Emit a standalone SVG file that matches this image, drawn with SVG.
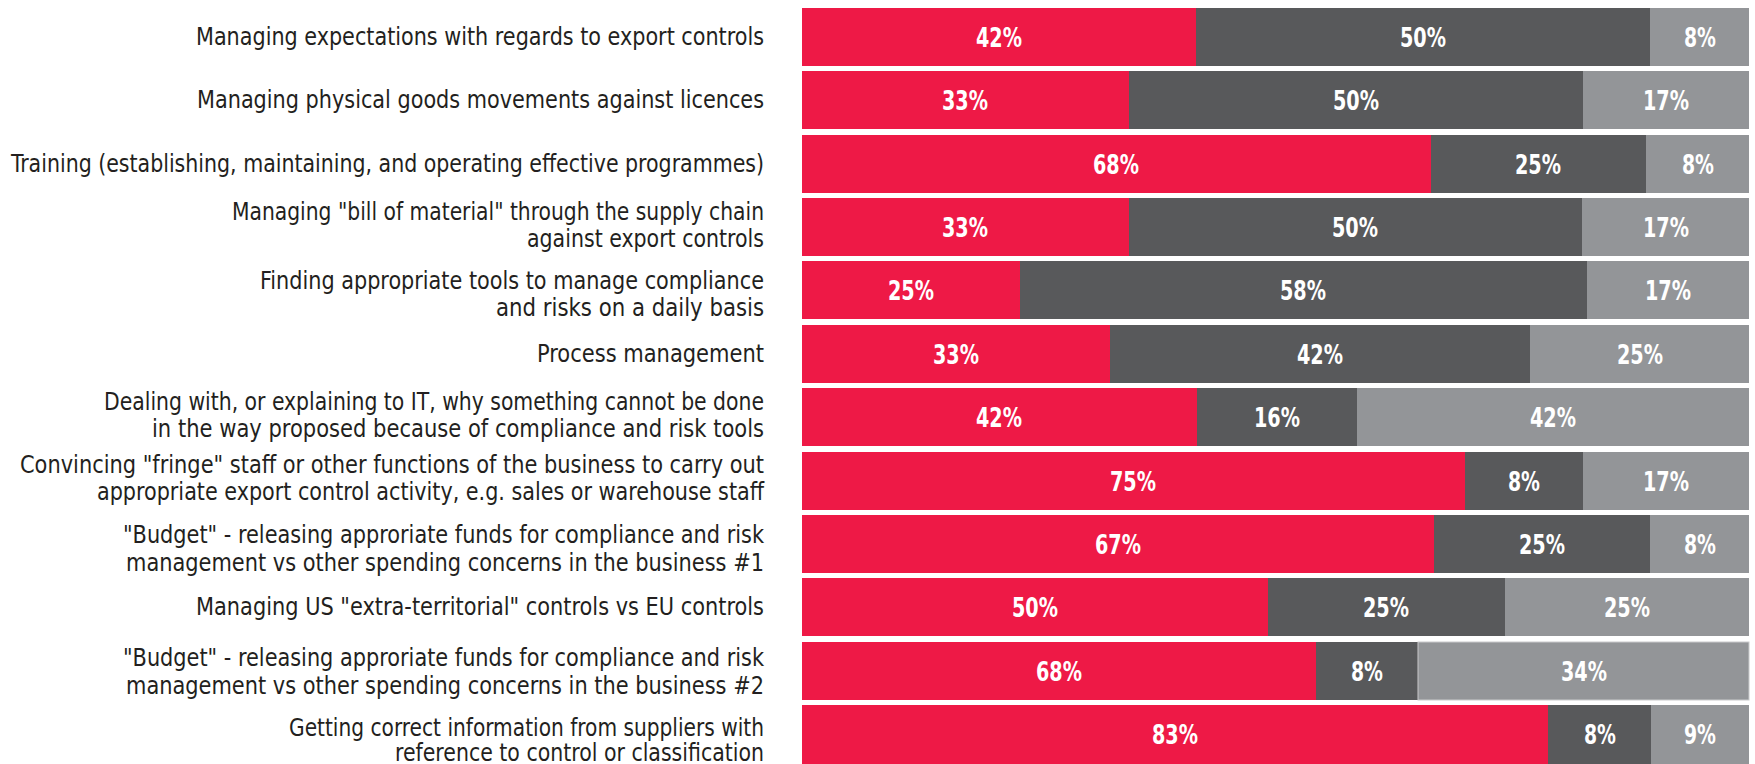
<svg xmlns="http://www.w3.org/2000/svg" width="1755" height="764" viewBox="0 0 1755 764">
<style>
.r{fill:#EE1946}.d{fill:#58595B}.l{fill:#939598}
.lab{font-family:"Liberation Sans Narrow","DejaVu Sans Condensed","Liberation Sans",sans-serif;font-size:24px;fill:#231F20;text-anchor:end}
.pc{font-family:"Liberation Sans Narrow","DejaVu Sans Condensed","Liberation Sans",sans-serif;font-size:27px;font-weight:bold;fill:#FFFFFF;text-anchor:middle}
</style>
<rect width="1755" height="764" fill="#FFFFFF"/>
<g id="row1">
<rect class="r" x="802" y="8" width="394" height="58"/><rect class="d" x="1196" y="8" width="454" height="58"/><rect class="l" x="1650" y="8" width="99" height="58"/>
<text class="lab" x="764" y="45" textLength="568" lengthAdjust="spacingAndGlyphs">Managing expectations with regards to export controls</text>
<text class="pc" x="999" y="47" textLength="46" lengthAdjust="spacingAndGlyphs">42%</text>
<text class="pc" x="1423" y="47" textLength="46" lengthAdjust="spacingAndGlyphs">50%</text>
<text class="pc" x="1700" y="47" textLength="32" lengthAdjust="spacingAndGlyphs">8%</text>
</g>
<g id="row2">
<rect class="r" x="802" y="71" width="327" height="58"/><rect class="d" x="1129" y="71" width="454" height="58"/><rect class="l" x="1583" y="71" width="166" height="58"/>
<text class="lab" x="764" y="108" textLength="567" lengthAdjust="spacingAndGlyphs">Managing physical goods movements against licences</text>
<text class="pc" x="965" y="110" textLength="46" lengthAdjust="spacingAndGlyphs">33%</text>
<text class="pc" x="1356" y="110" textLength="46" lengthAdjust="spacingAndGlyphs">50%</text>
<text class="pc" x="1666" y="110" textLength="46" lengthAdjust="spacingAndGlyphs">17%</text>
</g>
<g id="row3">
<rect class="r" x="802" y="135" width="629" height="58"/><rect class="d" x="1431" y="135" width="215" height="58"/><rect class="l" x="1646" y="135" width="103" height="58"/>
<text class="lab" x="764" y="172" textLength="753" lengthAdjust="spacingAndGlyphs">Training (establishing, maintaining, and operating effective programmes)</text>
<text class="pc" x="1116" y="174" textLength="46" lengthAdjust="spacingAndGlyphs">68%</text>
<text class="pc" x="1538" y="174" textLength="46" lengthAdjust="spacingAndGlyphs">25%</text>
<text class="pc" x="1698" y="174" textLength="32" lengthAdjust="spacingAndGlyphs">8%</text>
</g>
<g id="row4">
<rect class="r" x="802" y="198" width="327" height="58"/><rect class="d" x="1129" y="198" width="453" height="58"/><rect class="l" x="1582" y="198" width="167" height="58"/>
<text class="lab" x="764" y="220" textLength="532" lengthAdjust="spacingAndGlyphs">Managing "bill of material" through the supply chain</text>
<text class="lab" x="764" y="247" textLength="237" lengthAdjust="spacingAndGlyphs">against export controls</text>
<text class="pc" x="965" y="237" textLength="46" lengthAdjust="spacingAndGlyphs">33%</text>
<text class="pc" x="1355" y="237" textLength="46" lengthAdjust="spacingAndGlyphs">50%</text>
<text class="pc" x="1666" y="237" textLength="46" lengthAdjust="spacingAndGlyphs">17%</text>
</g>
<g id="row5">
<rect class="r" x="802" y="261" width="218" height="58"/><rect class="d" x="1020" y="261" width="567" height="58"/><rect class="l" x="1587" y="261" width="162" height="58"/>
<text class="lab" x="764" y="289" textLength="504" lengthAdjust="spacingAndGlyphs">Finding appropriate tools to manage compliance</text>
<text class="lab" x="764" y="316" textLength="268" lengthAdjust="spacingAndGlyphs">and risks on a daily basis</text>
<text class="pc" x="911" y="300" textLength="46" lengthAdjust="spacingAndGlyphs">25%</text>
<text class="pc" x="1303" y="300" textLength="46" lengthAdjust="spacingAndGlyphs">58%</text>
<text class="pc" x="1668" y="300" textLength="46" lengthAdjust="spacingAndGlyphs">17%</text>
</g>
<g id="row6">
<rect class="r" x="802" y="325" width="308" height="58"/><rect class="d" x="1110" y="325" width="420" height="58"/><rect class="l" x="1530" y="325" width="219" height="58"/>
<text class="lab" x="764" y="362" textLength="227" lengthAdjust="spacingAndGlyphs">Process management</text>
<text class="pc" x="956" y="364" textLength="46" lengthAdjust="spacingAndGlyphs">33%</text>
<text class="pc" x="1320" y="364" textLength="46" lengthAdjust="spacingAndGlyphs">42%</text>
<text class="pc" x="1640" y="364" textLength="46" lengthAdjust="spacingAndGlyphs">25%</text>
</g>
<g id="row7">
<rect class="r" x="802" y="388" width="395" height="58"/><rect class="d" x="1197" y="388" width="160" height="58"/><rect class="l" x="1357" y="388" width="392" height="58"/>
<text class="lab" x="764" y="410" textLength="660" lengthAdjust="spacingAndGlyphs">Dealing with, or explaining to IT, why something cannot be done</text>
<text class="lab" x="764" y="437" textLength="612" lengthAdjust="spacingAndGlyphs">in the way proposed because of compliance and risk tools</text>
<text class="pc" x="999" y="427" textLength="46" lengthAdjust="spacingAndGlyphs">42%</text>
<text class="pc" x="1277" y="427" textLength="46" lengthAdjust="spacingAndGlyphs">16%</text>
<text class="pc" x="1553" y="427" textLength="46" lengthAdjust="spacingAndGlyphs">42%</text>
</g>
<g id="row8">
<rect class="r" x="802" y="452" width="663" height="58"/><rect class="d" x="1465" y="452" width="118" height="58"/><rect class="l" x="1583" y="452" width="166" height="58"/>
<text class="lab" x="764" y="473" textLength="744" lengthAdjust="spacingAndGlyphs">Convincing "fringe" staff or other functions of the business to carry out</text>
<text class="lab" x="764" y="500" textLength="667" lengthAdjust="spacingAndGlyphs">appropriate export control activity, e.g. sales or warehouse staff</text>
<text class="pc" x="1133" y="491" textLength="46" lengthAdjust="spacingAndGlyphs">75%</text>
<text class="pc" x="1524" y="491" textLength="32" lengthAdjust="spacingAndGlyphs">8%</text>
<text class="pc" x="1666" y="491" textLength="46" lengthAdjust="spacingAndGlyphs">17%</text>
</g>
<g id="row9">
<rect class="r" x="802" y="515" width="632" height="58"/><rect class="d" x="1434" y="515" width="216" height="58"/><rect class="l" x="1650" y="515" width="99" height="58"/>
<text class="lab" x="764" y="543" textLength="641" lengthAdjust="spacingAndGlyphs">"Budget" - releasing approriate funds for compliance and risk</text>
<text class="lab" x="764" y="571" textLength="638" lengthAdjust="spacingAndGlyphs">management vs other spending concerns in the business #1</text>
<text class="pc" x="1118" y="554" textLength="46" lengthAdjust="spacingAndGlyphs">67%</text>
<text class="pc" x="1542" y="554" textLength="46" lengthAdjust="spacingAndGlyphs">25%</text>
<text class="pc" x="1700" y="554" textLength="32" lengthAdjust="spacingAndGlyphs">8%</text>
</g>
<g id="row10">
<rect class="r" x="802" y="578" width="466" height="58"/><rect class="d" x="1268" y="578" width="237" height="58"/><rect class="l" x="1505" y="578" width="244" height="58"/>
<text class="lab" x="764" y="615" textLength="568" lengthAdjust="spacingAndGlyphs">Managing US "extra-territorial" controls vs EU controls</text>
<text class="pc" x="1035" y="617" textLength="46" lengthAdjust="spacingAndGlyphs">50%</text>
<text class="pc" x="1386" y="617" textLength="46" lengthAdjust="spacingAndGlyphs">25%</text>
<text class="pc" x="1627" y="617" textLength="46" lengthAdjust="spacingAndGlyphs">25%</text>
</g>
<g id="row11">
<rect class="r" x="802" y="642" width="514" height="58"/><rect class="d" x="1316" y="642" width="102" height="58"/><rect class="l" x="1418" y="642" width="331" height="58" stroke="#C9CACC" stroke-width="1"/>
<text class="lab" x="764" y="666" textLength="641" lengthAdjust="spacingAndGlyphs">"Budget" - releasing approriate funds for compliance and risk</text>
<text class="lab" x="764" y="694" textLength="638" lengthAdjust="spacingAndGlyphs">management vs other spending concerns in the business #2</text>
<text class="pc" x="1059" y="681" textLength="46" lengthAdjust="spacingAndGlyphs">68%</text>
<text class="pc" x="1367" y="681" textLength="32" lengthAdjust="spacingAndGlyphs">8%</text>
<text class="pc" x="1584" y="681" textLength="46" lengthAdjust="spacingAndGlyphs">34%</text>
</g>
<g id="row12">
<rect class="r" x="802" y="705" width="746" height="59"/><rect class="d" x="1548" y="705" width="103" height="59"/><rect class="l" x="1651" y="705" width="98" height="59"/>
<text class="lab" x="764" y="736" textLength="475" lengthAdjust="spacingAndGlyphs">Getting correct information from suppliers with</text>
<text class="lab" x="764" y="761" textLength="369" lengthAdjust="spacingAndGlyphs">reference to control or classification</text>
<text class="pc" x="1175" y="744" textLength="46" lengthAdjust="spacingAndGlyphs">83%</text>
<text class="pc" x="1600" y="744" textLength="32" lengthAdjust="spacingAndGlyphs">8%</text>
<text class="pc" x="1700" y="744" textLength="32" lengthAdjust="spacingAndGlyphs">9%</text>
</g>
<g id="connectors"/>
</svg>
